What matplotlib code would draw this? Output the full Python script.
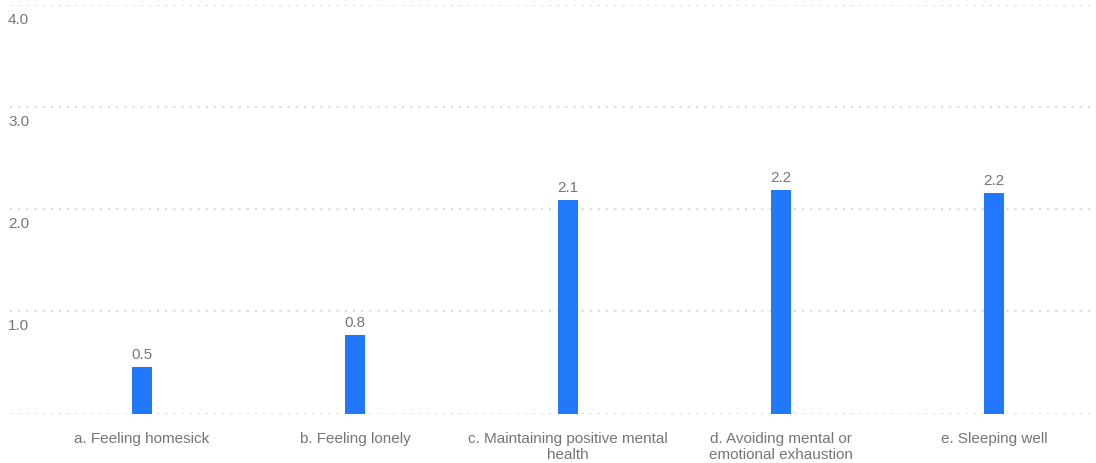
import matplotlib
matplotlib.use("Agg")
import matplotlib.pyplot as plt
from matplotlib import transforms

plt.rcParams['font.family'] = ['Liberation Sans', 'DejaVu Sans']

categories = [
    "a. Feeling homesick",
    "b. Feeling lonely",
    "c. Maintaining positive mental\nhealth",
    "d. Avoiding mental or\nemotional exhaustion",
    "e. Sleeping well",
]
values = [0.46, 0.77, 2.09, 2.19, 2.16]
y_ticks = [0.0, 1.0, 2.0, 3.0, 4.0]
y_tick_labels = ["", "1.0", "2.0", "3.0", "4.0"]

BAR_COLOR = "#2178fb"
TEXT_COLOR = "#757575"
GRID_COLOR = "#d9d9d9"

W, H = 1096, 463
fig = plt.figure(figsize=(W / 100, H / 100), dpi=100)
ax = fig.add_axes([10 / W, 1 - 413.5 / H, 1086 / W, 408.5 / H])

x = list(range(len(categories)))
ax.bar(x, values, width=0.094, color=BAR_COLOR, zorder=3)

ax.set_xlim(-132 / 213, 4 + 102 / 213)
ax.set_ylim(0, 4)

for t in y_ticks:
    ax.axhline(t, color=GRID_COLOR, linestyle=(0, (1, 3.2)), linewidth=1.4, zorder=1)

# y tick labels sit just below each gridline at the left edge
ytrans = ax.get_yaxis_transform()
for t, lab in zip(y_ticks, y_tick_labels):
    if lab:
        off = transforms.offset_copy(ytrans, fig=fig, x=-2, y=-8, units='dots')
        ax.text(0, t, lab, transform=off, ha='left', va='top',
                fontsize=11, color=TEXT_COLOR)

# value labels above bars
for xi, v in zip(x, values):
    off = transforms.offset_copy(ax.transData, fig=fig, x=0, y=5, units='dots')
    ax.text(xi, v, f"{v:.1f}", transform=off, ha='center', va='bottom',
            fontsize=11, color=TEXT_COLOR)

# category labels below the axis
xtrans = ax.get_xaxis_transform()
for xi, lab in zip(x, categories):
    off = transforms.offset_copy(xtrans, fig=fig, x=0, y=-18, units='dots')
    ax.text(xi, 0, lab, transform=off, ha='center', va='top',
            fontsize=11, color=TEXT_COLOR, linespacing=1.2)

ax.set_xticks([])
ax.set_yticks([])
for s in ax.spines.values():
    s.set_visible(False)
ax.patch.set_alpha(0)

fig.savefig("out.png", dpi=100)
